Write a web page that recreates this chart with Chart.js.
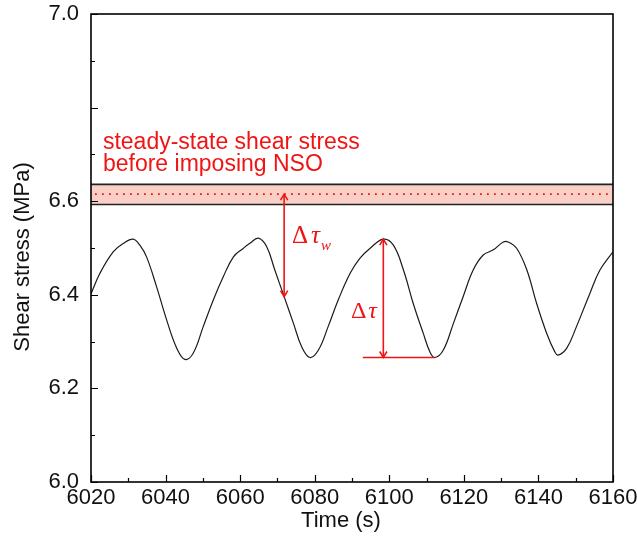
<!DOCTYPE html>
<html>
<head>
<meta charset="utf-8">
<script src="https://cdn.jsdelivr.net/npm/chart.js@4/dist/chart.umd.min.js"></script>
<style>
  html, body { margin: 0; padding: 0; background: #fff; }
  #wrap { width: 637px; height: 536px; }
</style>
</head>
<body>
<div id="wrap"><canvas id="c" width="637" height="536"></canvas></div>
<script>
// Shear stress response under normal stress oscillation
const timeS = [6020, 6022.4, 6026.0, 6028.7, 6031.3, 6033.1, 6034.9, 6037.6, 6040.3, 6043.0,
  6045.2, 6047.4, 6050.1, 6052.8, 6055.5, 6058.2, 6060.8, 6062.6, 6064.9, 6067.1,
  6069.3, 6071.8, 6074.3, 6076.5, 6078.7, 6081.0, 6083.6, 6086.3, 6089.5, 6092.1,
  6094.8, 6098.4, 6101.1, 6103.8, 6106.4, 6109.1, 6110.9, 6112.2, 6114.5, 6117.2,
  6119.8, 6122.5, 6125.2, 6127.9, 6130.6, 6131.9, 6134.2, 6136.9, 6139.5, 6142.2,
  6144.4, 6145.3, 6147.6, 6150.2, 6153.8, 6156.5, 6160];
const stressMPa = [6.402, 6.446, 6.492, 6.510, 6.519, 6.506, 6.481, 6.417, 6.346, 6.286,
  6.262, 6.275, 6.332, 6.389, 6.439, 6.481, 6.499, 6.510, 6.521, 6.503,
  6.453, 6.396, 6.339, 6.289, 6.266, 6.282, 6.332, 6.389, 6.446, 6.478,
  6.499, 6.519, 6.506, 6.453, 6.382, 6.318, 6.278, 6.266, 6.282, 6.339,
  6.396, 6.453, 6.485, 6.496, 6.513, 6.513, 6.499, 6.453, 6.382, 6.318,
  6.278, 6.271, 6.286, 6.332, 6.403, 6.453, 6.492];

// Steady-state shear stress before NSO (band and mean)
const steadyBand = [6.593, 6.636];
const steadyMean = 6.615;

// Δτw: from steady-state mean down to the curve
const dTauW = { t: 6071.8, from: 6.615, to: 6.396 };
// Δτ: peak-to-trough amplitude, with trough reference line
const dTau = { t: 6098.4, peak: 6.519, trough: 6.266, lineFrom: 6092.9, lineTo: 6112.2 };

// Axis ticks
const xTickValues = [6020, 6040, 6060, 6080, 6100, 6120, 6140, 6160];
const xTickLabels = ['6020', '6040', '6060', '6080', '6100', '6120', '6140', '6160'];
const yTickValues = [6.0, 6.2, 6.4, 6.6, 6.8, 7.0];
const yTickLabels = ['6.0', '6.2', '6.4', '6.6', '', '7.0'];
const xTitle = 'Time (s)';
const yTitle = 'Shear stress (MPa)';

const FONT = "'Liberation Sans', Arial, sans-serif";
const SERIF = "'Liberation Serif', 'Times New Roman', serif";
const RED = 'rgb(240,20,20)';

function labelFor(values, labels, v) {
  for (let i = 0; i < values.length; i++) {
    if (Math.abs(values[i] - v) < 1e-6) return labels[i];
  }
  return '';
}

function arrowHead(ctx, x, y, dir, size) {
  // dir: -1 pointing up, +1 pointing down
  ctx.beginPath();
  ctx.moveTo(x - size * 0.6, y - dir * size);
  ctx.lineTo(x, y);
  ctx.lineTo(x + size * 0.6, y - dir * size);
  ctx.stroke();
}

const decorPlugin = {
  id: 'decor',
  beforeDatasetsDraw(chart) {
    const { ctx, chartArea: a, scales: { x, y } } = chart;
    ctx.save();
    // steady-state band
    const yTop = y.getPixelForValue(steadyBand[1]);
    const yBot = y.getPixelForValue(steadyBand[0]);
    ctx.fillStyle = 'rgb(250,208,198)';
    ctx.fillRect(a.left, yTop, a.right - a.left, yBot - yTop);
    ctx.strokeStyle = '#222';
    ctx.lineWidth = 1.6;
    ctx.beginPath();
    ctx.moveTo(a.left, yTop); ctx.lineTo(a.right, yTop);
    ctx.moveTo(a.left, yBot); ctx.lineTo(a.right, yBot);
    ctx.stroke();
    // dotted mean line
    const yM = y.getPixelForValue(steadyMean);
    ctx.strokeStyle = RED;
    ctx.lineWidth = 1.8;
    ctx.setLineDash([1.8, 5.2]);
    ctx.beginPath();
    ctx.moveTo(a.left + 4, yM); ctx.lineTo(a.right, yM);
    ctx.stroke();
    ctx.restore();
  },
  afterDraw(chart) {
    const { ctx, chartArea: a, scales: { x, y } } = chart;
    ctx.save();
    // frame
    ctx.strokeStyle = '#000';
    ctx.lineWidth = 1.6;
    ctx.strokeRect(a.left, a.top, a.right - a.left, a.bottom - a.top);
    // inward ticks, bottom and left
    ctx.lineWidth = 1.2;
    ctx.beginPath();
    for (let t = 6020; t <= 6160; t += 10) {
      const px = Math.round(x.getPixelForValue(t)) + 0.5;
      const len = (t % 20 === 0) ? 7 : 4;
      ctx.moveTo(px, a.bottom); ctx.lineTo(px, a.bottom - len);
    }
    for (let k = 0; k <= 10; k++) {
      const v = 6 + k * 0.1;
      const py = Math.round(y.getPixelForValue(v)) + 0.5;
      const len = (k % 2 === 0) ? 7 : 4;
      ctx.moveTo(a.left, py); ctx.lineTo(a.left + len, py);
    }
    ctx.stroke();

    // axis titles
    ctx.fillStyle = '#111';
    ctx.font = '22px ' + FONT;
    ctx.textAlign = 'center';
    ctx.textBaseline = 'middle';
    ctx.fillText(xTitle, (a.left + a.right) / 2 - 11, 521);
    ctx.save();
    ctx.translate(23, (a.top + a.bottom) / 2 + 9);
    ctx.rotate(-Math.PI / 2);
    ctx.fillText(yTitle, 0, 0);
    ctx.restore();

    // Δτw arrow
    ctx.strokeStyle = RED;
    ctx.lineWidth = 1.6;
    const xw = x.getPixelForValue(dTauW.t);
    const yw1 = y.getPixelForValue(dTauW.from);
    const yw2 = y.getPixelForValue(dTauW.to);
    ctx.beginPath(); ctx.moveTo(xw, yw1); ctx.lineTo(xw, yw2); ctx.stroke();
    arrowHead(ctx, xw, yw1, -1, 6);
    arrowHead(ctx, xw, yw2, 1, 6);

    // Δτ arrow and trough line
    const xa = x.getPixelForValue(dTau.t);
    const ya1 = y.getPixelForValue(dTau.peak);
    const ya2 = y.getPixelForValue(dTau.trough);
    ctx.beginPath(); ctx.moveTo(xa, ya1); ctx.lineTo(xa, ya2); ctx.stroke();
    arrowHead(ctx, xa, ya1, -1, 6);
    arrowHead(ctx, xa, ya2, 1, 6);
    ctx.beginPath();
    ctx.moveTo(x.getPixelForValue(dTau.lineFrom), ya2);
    ctx.lineTo(x.getPixelForValue(dTau.lineTo), ya2);
    ctx.stroke();

    // annotation text
    ctx.fillStyle = RED;
    ctx.textBaseline = 'middle';
    ctx.textAlign = 'left';
    ctx.font = '23px ' + FONT;
    const tx = x.getPixelForValue(6023.2);
    ctx.fillText('steady-state shear stress', tx, y.getPixelForValue(6.725));
    ctx.fillText('before imposing NSO', tx, y.getPixelForValue(6.679));

    ctx.font = '25px ' + SERIF;
    let lx = x.getPixelForValue(6073.9);
    let ly = y.getPixelForValue(6.524);
    ctx.fillText('Δ', lx, ly);
    lx += ctx.measureText('Δ').width + 3;
    ctx.font = 'italic 25px ' + SERIF;
    ctx.fillText('τ', lx, ly);
    lx += ctx.measureText('τ').width + 1;
    ctx.font = 'italic 15px ' + SERIF;
    ctx.fillText('w', lx, ly + 9);

    ctx.font = '24px ' + SERIF;
    lx = x.getPixelForValue(6089.7);
    ly = y.getPixelForValue(6.363);
    ctx.fillText('Δ', lx, ly);
    lx += ctx.measureText('Δ').width + 2;
    ctx.font = 'italic 24px ' + SERIF;
    ctx.fillText('τ', lx, ly);
    ctx.restore();
  }
};

new Chart(document.getElementById('c'), {
  type: 'line',
  data: {
    datasets: [{
      data: timeS.map((t, i) => ({ x: t, y: stressMPa[i] })),
      borderColor: '#1a1a1a',
      borderWidth: 1.2,
      pointRadius: 0,
      tension: 0.4,
      fill: false
    }]
  },
  options: {
    responsive: false,
    animation: false,
    devicePixelRatio: 1,
    layout: { padding: { left: 0, right: 24, top: 14, bottom: 0 } },
    plugins: { legend: { display: false }, tooltip: { enabled: false } },
    scales: {
      x: {
        type: 'linear',
        min: 6020, max: 6160,
        afterFit(s) { s.height = 54; s.paddingLeft = 0; s.paddingRight = 0; },
        afterBuildTicks(s) { s.ticks = xTickValues.map(v => ({ value: v })); },
        grid: { display: false, drawTicks: false },
        border: { display: false },
        ticks: {
          color: '#111',
          font: { family: FONT, size: 22 },
          padding: 3,
          maxRotation: 0,
          callback: v => labelFor(xTickValues, xTickLabels, v)
        }
      },
      y: {
        type: 'linear',
        min: 6.0, max: 7.0,
        afterFit(s) { s.width = 91; s.paddingTop = 0; s.paddingBottom = 0; },
        afterBuildTicks(s) { s.ticks = yTickValues.map(v => ({ value: v })); },
        grid: { display: false, drawTicks: false },
        border: { display: false },
        ticks: {
          color: '#111',
          font: { family: FONT, size: 22 },
          padding: 12,
          callback: v => labelFor(yTickValues, yTickLabels, v)
        }
      }
    }
  },
  plugins: [decorPlugin]
});
</script>
</body>
</html>
